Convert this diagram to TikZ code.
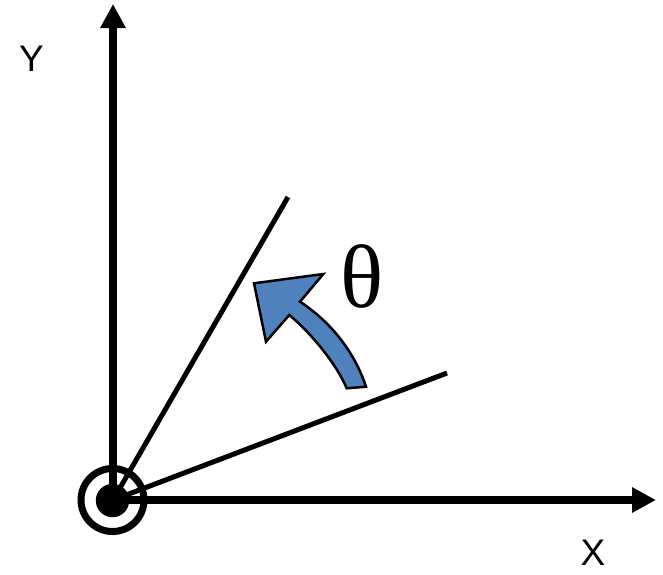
\documentclass[tikz,border=0pt]{standalone}
\usepackage{fontspec}
\setmainfont{Liberation Sans}
\newfontfamily\thetafont{Liberation Serif}
\usetikzlibrary{arrows.meta}
\definecolor{arrowblue}{RGB}{79,129,189}
\tikzset{
  axis/.style={line width=8pt, -{Triangle[length=24pt,width=24pt]}},
  ray/.style={line width=5pt},
  axlabel/.style={inner sep=0pt, font=\fontsize{37}{37}\selectfont},
}
\begin{document}
\begin{tikzpicture}[x=1pt,y=-1pt]
\useasboundingbox (0,0) rectangle (663,574);
\coordinate (O) at (113,500);
\coordinate (Xend) at (656,500);
\coordinate (Yend) at (113,4);
\coordinate (A) at (288,197);
\coordinate (B) at (447,373);
\draw[axis] (O) -- (Xend);
\draw[axis] (O) -- (Yend);
\draw[ray] (O) -- (A);
\draw[ray] (O) -- (B);
\draw[line width=7pt] (112.5,500) circle (31.5);
\fill (112.5,500.5) circle (16.7);
\draw[fill=arrowblue, line width=2.5pt, line join=miter]
  (366,386.7) -- (346.7,388.3) .. controls (337.1,365.3) and (312.4,334.2) .. (289.3,315)
  -- (266,341.7) -- (254,283.3) -- (323.3,274) -- (300,301.7)
  .. controls (331.9,322.6) and (355.2,353.5) .. (366,386.7) -- cycle;
\node[inner sep=0pt, font=\thetafont\fontsize{90}{90}\selectfont] (theta) at (362,276) {θ};
\node[axlabel] (ylab) at (31.5,58.5) {Y};
\node[axlabel] (xlab) at (593,552.5) {X};
\end{tikzpicture}
\end{document}
